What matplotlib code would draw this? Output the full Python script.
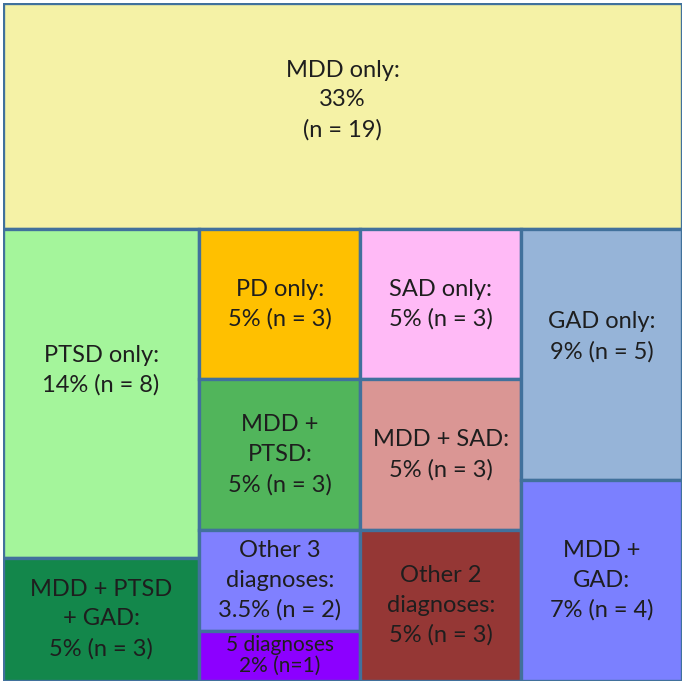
import matplotlib.pyplot as plt
from matplotlib.patches import Rectangle

plt.rcParams['font.family'] = ['Lato', 'DejaVu Sans']

# diagnosis groups, counts (n) and the column each one sits in (0 = top row)
labels = ['MDD only:\n33%\n(n = 19)',
          'PTSD only:\n14% (n = 8)', 'MDD + PTSD\n+ GAD:\n5% (n = 3)',
          'PD only:\n5% (n = 3)', 'MDD +\nPTSD:\n5% (n = 3)',
          'Other 3\ndiagnoses:\n3.5% (n = 2)', '5 diagnoses\n2% (n=1)',
          'SAD only:\n5% (n = 3)', 'MDD + SAD:\n5% (n = 3)',
          'Other 2\ndiagnoses:\n5% (n = 3)',
          'GAD only:\n9% (n = 5)', 'MDD +\nGAD:\n7% (n = 4)']
counts = [19, 8, 3, 3, 3, 2, 1, 3, 3, 3, 5, 4]
column = [0, 1, 1, 2, 2, 2, 2, 3, 3, 3, 4, 4]
colors = ['#f5f2a6', '#a4f59b', '#13874b', '#ffc000', '#51b55b', '#8080ff',
          '#8c00ff', '#ffbaf6', '#da9694', '#953735', '#96b4d8', '#7b80ff']

total = sum(counts)

# slice-and-dice layout: top row for column 0, the rest split into columns
rects = []
top_h = counts[0] / total
rects.append((0, 0, 1, top_h))
rest = total - counts[0]
x = 0
for c in range(1, 5):
    idx = [i for i in range(len(counts)) if column[i] == c]
    csum = sum(counts[i] for i in idx)
    w = csum / rest
    y = top_h
    for i in idx:
        h = (1 - top_h) * counts[i] / csum
        rects.append((x, y, w, h))
        y += h
    x += w

fig = plt.figure(figsize=(6.85, 6.85), dpi=100)
ax = fig.add_axes([0.004, 0.006, 0.992, 0.99])
ax.set_xlim(0, 1)
ax.set_ylim(1, 0)
ax.axis('off')

for (x0, y0, w, h), lab, col in zip(rects, labels, colors):
    ax.add_patch(Rectangle((x0, y0), w, h, facecolor=col, edgecolor='#41719c',
                           linewidth=2.4))
    small = h < 0.1
    cy = y0 + h * (0.43 if h > 0.3 else 0.5)
    ax.text(x0 + w / 2, cy, lab, ha='center', va='center',
            fontsize=15 if small else 17, color='#1e1e1e',
            linespacing=1.05 if small else 1.5)

fig.savefig('out.png', dpi=100)
